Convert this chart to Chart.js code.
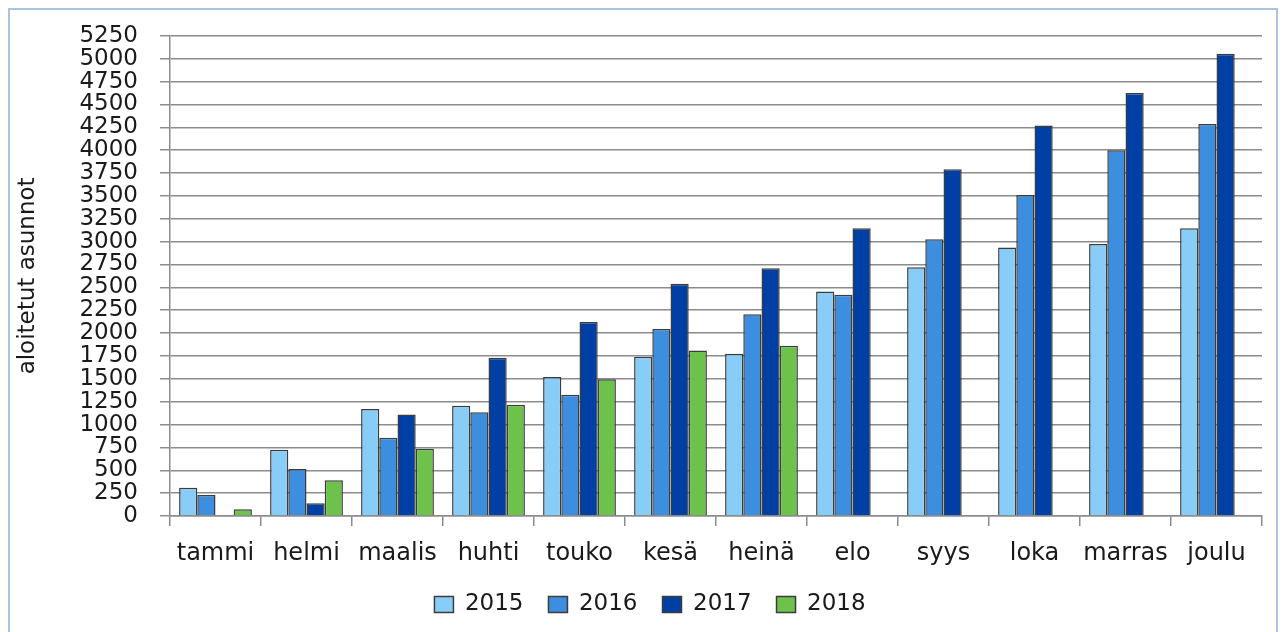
<!DOCTYPE html>
<html>
<head>
<meta charset="utf-8">
<script src="https://cdn.jsdelivr.net/npm/chart.js@4/dist/chart.umd.min.js"></script>
<style>
  html, body { margin: 0; padding: 0; overflow: hidden; background: #fff; }
  #wrap { position: relative; width: 1282px; height: 632px; }
  #frame { position: absolute; left: 8px; top: 8px; width: 1270px; height: 650px; box-sizing: border-box;
           border: 2px solid #a9c3dc; pointer-events: none; }
</style>
</head>
<body>
<div id="wrap">
  <canvas id="myChart" width="1282" height="627"></canvas>
  <div id="frame"></div>
</div>
<script>
const months = ['tammi', 'helmi', 'maalis', 'huhti', 'touko', 'kesä', 'heinä', 'elo', 'syys', 'loka', 'marras', 'joulu'];
const years = ['2015', '2016', '2017', '2018'];
const v2015 = [310, 725, 1170, 1205, 1520, 1740, 1775, 2455, 2720, 2935, 2975, 3145];
const v2016 = [230, 515, 855, 1135, 1325, 2045, 2205, 2420, 3025, 3510, 4000, 4285];
const v2017 = [0, 140, 1110, 1730, 2120, 2540, 2710, 3145, 3790, 4270, 4625, 5055];
const v2018 = [75, 390, 735, 1215, 1495, 1810, 1860, null, null, null, null, null];

const colors = ['#87cdf8', '#3d8ede', '#0040a4', '#6cc24a'];
const grey = '#8c8c8c';

Chart.defaults.font.family = '"DejaVu Sans", sans-serif';
Chart.defaults.font.size = 23;
Chart.defaults.color = '#1a1a1a';

// nudge the legend a bit to the right, like in the original
const shiftLegend = {
  id: 'shiftLegend',
  afterLayout(chart) {
    chart.legend.left += 15;
    chart.legend.right += 15;
  }
};

new Chart(document.getElementById('myChart'), {
  type: 'bar',
  data: {
    labels: months,
    datasets: [v2015, v2016, v2017, v2018].map((d, i) => ({
      label: years[i],
      data: d,
      backgroundColor: colors[i],
      borderColor: '#3c3c3c',
      borderWidth: 1.5,
      borderSkipped: 'bottom',
      barPercentage: 1,
      categoryPercentage: 0.8,
    })),
  },
  plugins: [shiftLegend],
  options: {
    responsive: false,
    animation: false,
    layout: { padding: { left: 8, right: 20, top: 31, bottom: 1 } },
    plugins: {
      tooltip: { enabled: false },
      legend: {
        position: 'bottom',
        labels: { boxWidth: 19, boxHeight: 16, padding: 25, font: { size: 23 } },
      },
    },
    scales: {
      x: {
        grid: { drawOnChartArea: false, tickLength: 10, color: grey, lineWidth: 1.5 },
        border: { color: grey, width: 1.5 },
        ticks: { padding: 13, font: { size: 24 } },
        afterFit: s => { s.height = 52; },
      },
      y: {
        min: 0,
        max: 5250,
        ticks: { stepSize: 250, autoSkip: false, padding: 22, font: { size: 23 }, callback: v => String(v) },
        grid: { color: grey, lineWidth: 1.5, tickLength: 10 },
        border: { color: grey, width: 1.5 },
        title: { display: true, text: 'aloitetut asunnot', font: { size: 23 }, padding: { top: 6, bottom: 0 } },
        afterFit: s => { s.width = 162; },
      },
    },
  },
});
</script>
</body>
</html>
